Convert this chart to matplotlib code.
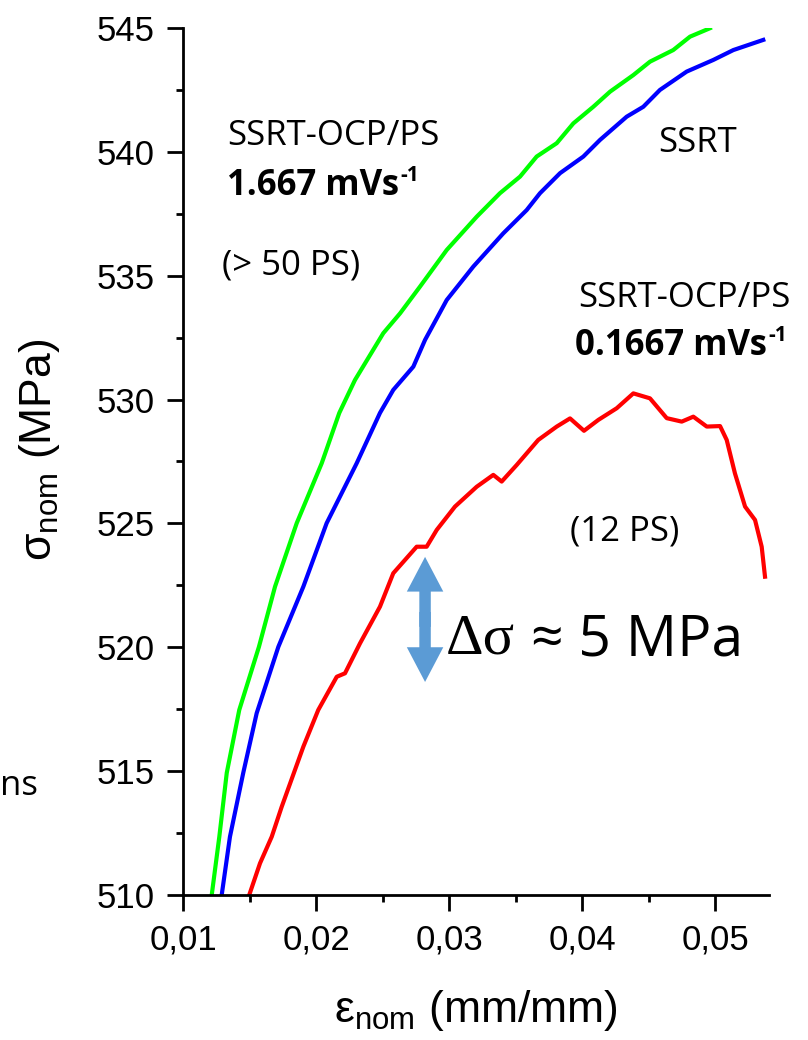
import matplotlib
matplotlib.use('Agg')
import matplotlib.pyplot as plt
from matplotlib.ticker import MultipleLocator, FuncFormatter

# curve points (strain mm/mm, stress MPa)
green_x = [0.01216, 0.01273, 0.01329, 0.01423, 0.01571, 0.01692, 0.01855, 0.02043, 0.02175,
           0.02293, 0.02506, 0.02632, 0.02782, 0.02983, 0.03208, 0.03383, 0.03534, 0.03659,
           0.03810, 0.03935, 0.04085, 0.04211, 0.04386, 0.04511, 0.04686, 0.04812, 0.04962]
green_y = [510.0, 512.35, 514.93, 517.47, 520.02, 522.45, 525.01, 527.43, 529.46,
           530.79, 532.68, 533.48, 534.56, 536.04, 537.38, 538.33, 539.00, 539.81,
           540.35, 541.15, 541.82, 542.43, 543.10, 543.64, 544.11, 544.65, 544.99]

blue_x = [0.01291, 0.01353, 0.01453, 0.01554, 0.01717, 0.01905, 0.02080, 0.02306, 0.02481,
          0.02581, 0.02732, 0.02820, 0.02983, 0.03183, 0.03408, 0.03584, 0.03684, 0.03835,
          0.04010, 0.04135, 0.04336, 0.04461, 0.04586, 0.04787, 0.04987, 0.05138, 0.05363]
blue_y = [510.0, 512.35, 514.93, 517.34, 520.02, 522.45, 525.01, 527.43, 529.46,
          530.39, 531.33, 532.41, 534.02, 535.37, 536.71, 537.65, 538.33, 539.14,
          539.81, 540.48, 541.42, 541.82, 542.50, 543.24, 543.71, 544.11, 544.52]

red_x = [0.01498, 0.01579, 0.01667, 0.01742, 0.01905, 0.02017, 0.02156, 0.02218, 0.02331,
         0.02481, 0.02581, 0.02757, 0.02832, 0.02908, 0.03045, 0.03208, 0.03333, 0.03396,
         0.03509, 0.03671, 0.03810, 0.03910, 0.04015, 0.04123, 0.04261, 0.04386, 0.04511,
         0.04637, 0.04750, 0.04837, 0.04938, 0.05038, 0.05088, 0.05150, 0.05226, 0.05301,
         0.05351, 0.05376]
red_y = [510.0, 511.28, 512.35, 513.56, 515.99, 517.47, 518.81, 518.95, 520.16,
         521.64, 522.99, 524.06, 524.06, 524.74, 525.68, 526.48, 526.96, 526.69,
         527.36, 528.37, 528.91, 529.24, 528.74, 529.18, 529.65, 530.25, 530.05,
         529.25, 529.11, 529.31, 528.91, 528.93, 528.37, 527.02, 525.68, 525.14,
         524.06, 522.85]

W, H = 808, 1040

plt.rcParams['mathtext.fontset'] = 'custom'
plt.rcParams['mathtext.rm'] = 'Liberation Sans'
plt.rcParams['mathtext.it'] = 'Liberation Sans'

fig = plt.figure(figsize=(W / 100, H / 100), dpi=100)
ax = fig.add_axes([183 / W, 1 - 895 / H, (769 - 183) / W, (895 - 28) / H])

ax.plot(green_x, green_y, color='#00ff00', lw=3)
ax.plot(blue_x, blue_y, color='#0000ff', lw=3)
ax.plot(red_x, red_y, color='#ff0000', lw=3)

ax.set_xlim(0.01, 0.05406)
ax.set_ylim(510, 545)

ax.spines['top'].set_visible(False)
ax.spines['right'].set_visible(False)
for s in ['left', 'bottom']:
    ax.spines[s].set_linewidth(2)

ax.xaxis.set_major_locator(MultipleLocator(0.01))
ax.xaxis.set_minor_locator(MultipleLocator(0.005))
ax.yaxis.set_major_locator(MultipleLocator(5))
ax.yaxis.set_minor_locator(MultipleLocator(2.5))
ax.xaxis.set_major_formatter(FuncFormatter(lambda v, p: ('%.2f' % v).replace('.', ',')))
ax.yaxis.set_major_formatter(FuncFormatter(lambda v, p: '%d' % round(v)))

ax.tick_params(which='major', direction='out', length=11.5, width=2, labelsize=25, pad=9)
ax.tick_params(which='minor', direction='out', length=5, width=2)
for lab in ax.get_xticklabels() + ax.get_yticklabels():
    lab.set_family('Liberation Sans')

ax.set_ylabel('σ$_{\\mathrm{nom}}$ (MPa)', family='Liberation Sans', fontsize=32)
ax.set_xlabel('ε$_{\\mathrm{nom}}$ (mm/mm)', family='Liberation Sans', fontsize=32)
ax.yaxis.set_label_coords(-0.2065, 0.513)
ax.xaxis.set_label_coords(0.5, -0.1073)


def ftext(x, y, s, **kw):
    return fig.text(x / W, 1 - y / H, s, ha='left', va='baseline', family='Open Sans', **kw)


def sup(t, s):
    # small superscript stuck to the top right of a text
    ax.annotate(s, xy=(1, 1), xycoords=t, xytext=(1, 2), textcoords='offset points',
                ha='left', va='top', family='Open Sans', fontweight='bold', fontsize=15,
                annotation_clip=False)


ftext(227, 145, 'SSRT-OCP/PS', fontsize=25)
t1 = ftext(227, 195, '1.667 mVs', fontsize=25, fontweight='bold')
sup(t1, '-1')
ftext(222, 275, '(> 50 PS)', fontsize=25)
ftext(658, 152, 'SSRT', fontsize=25)
ftext(578, 307, 'SSRT-OCP/PS', fontsize=25)
t2 = ftext(575, 355, '0.1667 mVs', fontsize=25, fontweight='bold')
sup(t2, '-1')
ftext(570, 540, '(12 PS)', fontsize=25)
ftext(0, 795, 'ns', fontsize=25)

fig.text(446 / W, 1 - 654 / H, 'Δσ', ha='left', va='baseline', family='Liberation Serif', fontsize=42)
ftext(531, 655, '≈ 5 MPa', fontsize=41)

# double headed arrow for the stress gap
arrow_color = '#5b9bd5'
x_arr = 0.0282
y_mid = (523.65 + 518.6) / 2
for y_end, y_start in [(523.65, y_mid - 0.3), (518.6, y_mid + 0.3)]:
    ax.annotate('', xy=(x_arr, y_end), xytext=(x_arr, y_start),
                arrowprops=dict(arrowstyle='simple,head_length=1.0,head_width=1.05,tail_width=0.33',
                                mutation_scale=25, color=arrow_color, lw=0,
                                shrinkA=0, shrinkB=0))

plt.savefig('out.png', dpi=100)
plt.close()
